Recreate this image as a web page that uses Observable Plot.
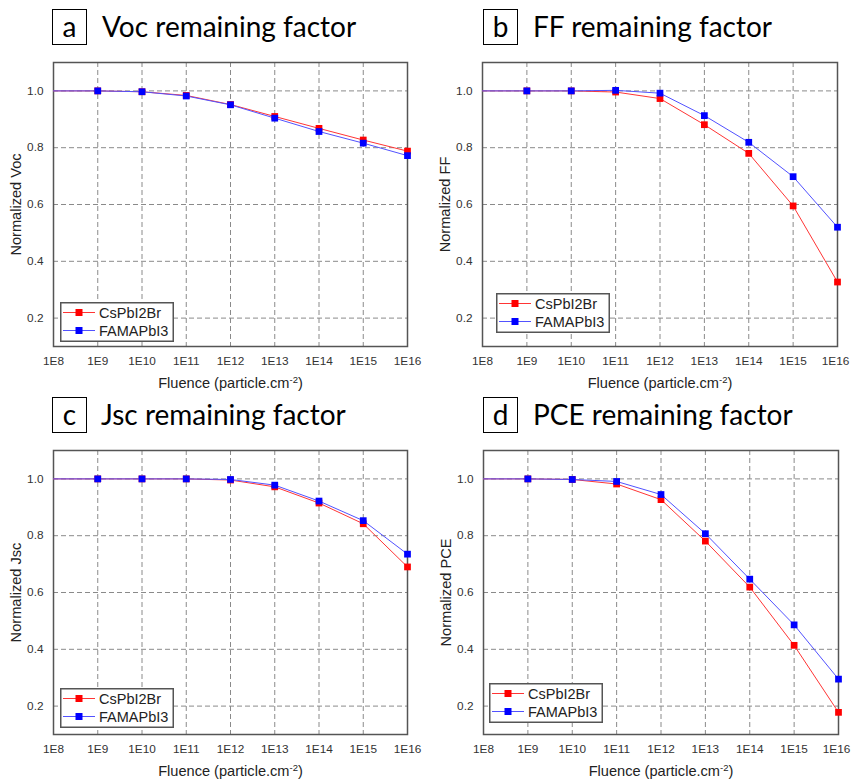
<!DOCTYPE html>
<html><head><meta charset="utf-8">
<script src="https://cdn.jsdelivr.net/npm/d3@7"></script>
<script src="https://cdn.jsdelivr.net/npm/@observablehq/plot@0.6"></script>
<style>
body{margin:0;background:#fff;}
#root{position:relative;width:851px;height:780px;overflow:hidden;background:#fff;}
.abs{position:absolute;}
.tbox{position:absolute;box-sizing:border-box;border:1.6px solid #000;font-family:Lato,"Open Sans",sans-serif;font-size:28px;color:#000;text-align:center;}
.ttl{position:absolute;font-family:Lato,"Open Sans",sans-serif;font-size:28px;color:#000;white-space:nowrap;}
</style></head><body><div id="root"></div>
<script>
// ---- data ----
const fluence = [1e8, 1e9, 1e10, 1e11, 1e12, 1e13, 1e14, 1e15, 1e16];
const xTickLabels = ["1E8","1E9","1E10","1E11","1E12","1E13","1E14","1E15","1E16"];
const yTicks = [0.2, 0.4, 0.6, 0.8, 1.0];
const seriesNames = ["CsPbI2Br", "FAMAPbI3"];

const vocCs = [1.0, 1.0, 0.997, 0.984, 0.952, 0.910, 0.868, 0.827, 0.788];
const vocFa = [1.0, 1.0, 0.997, 0.982, 0.951, 0.904, 0.857, 0.816, 0.772];
const ffCs  = [1.0, 1.0, 1.0, 0.996, 0.973, 0.881, 0.780, 0.595, 0.327];
const ffFa  = [1.0, 1.0, 1.0, 1.002, 0.992, 0.913, 0.819, 0.698, 0.520];
const jscCs = [1.0, 1.0, 1.0, 1.0, 0.996, 0.972, 0.915, 0.842, 0.690];
const jscFa = [1.0, 1.0, 1.0, 1.0, 0.998, 0.978, 0.922, 0.853, 0.735];
const pceCs = [1.0, 1.0, 0.998, 0.982, 0.927, 0.781, 0.619, 0.414, 0.178];
const pceFa = [1.0, 1.0, 0.998, 0.991, 0.945, 0.807, 0.647, 0.486, 0.295];

const panels = [
  {letter:"a", title:"Voc remaining factor", ylabel:"Normalized Voc", cs:vocCs, fa:vocFa,
   px:0, py:50, mL:53, mR:18, box:[52,9], tx:102, leg:[60,302], right:false},
  {letter:"b", title:"FF remaining factor", ylabel:"Normalized FF", cs:ffCs, fa:ffFa,
   px:425, py:50, mL:57, mR:13, box:[483,9], tx:533, leg:[496,293], right:true},
  {letter:"c", title:"Jsc remaining factor", ylabel:"Normalized Jsc", cs:jscCs, fa:jscFa,
   px:0, py:438, mL:53, mR:18, box:[52,397], tx:101, leg:[60,688], right:false},
  {letter:"d", title:"PCE remaining factor", ylabel:"Normalized PCE", cs:pceCs, fa:pceFa,
   px:425, py:438, mL:58, mR:12, box:[483,397], tx:533, leg:[489,683], right:true}
];

const redLine = "#ff3535", blueLine = "#5252ff";
const redFill = "#ff0000", blueFill = "#0000ff";
const root = document.getElementById("root");
const sans = '"Liberation Sans", Arial, sans-serif';

for (const p of panels) {
  const cs = fluence.map((x, i) => ({x, y: p.cs[i]}));
  const fa = fluence.map((x, i) => ({x, y: p.fa[i]}));
  const csDots = cs.filter(d => d.x >= 1e9);
  const faDots = fa.filter(d => d.x >= 1e9);
  const chart = Plot.plot({
    width: 425, height: 340,
    marginLeft: p.mL, marginRight: p.mR, marginTop: 12, marginBottom: 44,
    style: {fontFamily: sans, fontSize: "11.8px", color: "#333", background: "transparent", overflow: "visible"},
    x: {type: "log", domain: [1e8, 1e16]},
    y: {domain: [0.1, 1.1]},
    marks: [
      Plot.gridX(fluence.slice(1, -1), {stroke: "#8a8a8a", strokeOpacity: 1, strokeDasharray: "5,3"}),
      Plot.gridY(yTicks, {stroke: "#8a8a8a", strokeOpacity: 1, strokeDasharray: "5,3"}),
      Plot.frame({stroke: "#555", strokeWidth: 1.5}),
      Plot.axisX(fluence, {tickSize: 0, tickPadding: 10, tickFormat: d => xTickLabels[fluence.indexOf(d)],
        label: "Fluence (particle.cm-2)", labelAnchor: "center", labelArrow: "none", labelOffset: 41}),
      Plot.axisY(yTicks, {tickSize: 0, tickPadding: 10, tickFormat: d => d.toFixed(1),
        label: p.ylabel, labelAnchor: "center", labelArrow: "none", labelOffset: 43}),
      Plot.line(cs, {x: "x", y: "y", stroke: redLine, strokeWidth: 1}),
      Plot.dot(csDots, {x: "x", y: "y", symbol: "square", r: 3.8, fill: redFill}),
      Plot.line(fa, {x: "x", y: "y", stroke: blueLine, strokeWidth: 1}),
      Plot.dot(faDots, {x: "x", y: "y", symbol: "square", r: 3.8, fill: blueFill})
    ]
  });
  chart.style.position = "absolute";
  chart.style.left = p.px + "px";
  chart.style.top = p.py + "px";
  // axis label styling
  chart.querySelectorAll("text").forEach(t => {
    const s = t.textContent;
    if (s.startsWith("Fluence")) {
      t.style.fontSize = "14.6px";
      t.innerHTML = 'Fluence (particle.cm<tspan dy="-5" font-size="9.5">-2</tspan><tspan dy="5">)</tspan>';
      t.setAttribute("fill", "#222");
    } else if (s.startsWith("Normalized")) {
      t.textContent = s.replace(/\s*[→↑←↓]\s*/g, "");
      t.style.fontSize = "14.6px";
      t.setAttribute("fill", "#222");
    } else if (s === "1E16" && p.right) {
      t.setAttribute("dx", "-2");
    }
  });
  root.appendChild(chart);

  // title box + title
  const b = document.createElement("div");
  b.className = "tbox";
  b.style.left = p.box[0] + "px"; b.style.top = p.box[1] + "px";
  b.style.width = "35px"; b.style.height = "36px"; b.style.lineHeight = "32px";
  b.textContent = p.letter;
  root.appendChild(b);
  const t = document.createElement("div");
  t.className = "ttl";
  t.style.left = p.tx + "px"; t.style.top = (p.box[1]) + "px";
  t.style.lineHeight = "34px";
  t.textContent = p.title;
  root.appendChild(t);

  // legend
  const lg = d3.select(root).append("svg")
    .attr("class", "abs").attr("width", 114).attr("height", 40)
    .style("left", p.leg[0] + "px").style("top", p.leg[1] + "px");
  lg.append("rect").attr("x", 0.75).attr("y", 0.75).attr("width", 112.5).attr("height", 38.5)
    .attr("fill", "#fff").attr("stroke", "#555").attr("stroke-width", 1.5);
  const rows = [{name: seriesNames[0], line: redLine, fill: redFill, y: 10.5},
                {name: seriesNames[1], line: blueLine, fill: blueFill, y: 28.5}];
  for (const r of rows) {
    lg.append("line").attr("x1", 3).attr("x2", 35).attr("y1", r.y).attr("y2", r.y)
      .attr("stroke", r.line).attr("stroke-width", 1);
    lg.append("rect").attr("x", 15.5).attr("y", r.y - 3.5).attr("width", 7).attr("height", 7).attr("fill", r.fill);
    lg.append("text").attr("x", 39).attr("y", r.y).attr("dy", "0.36em")
      .attr("font-family", sans).attr("font-size", "14.5px")
      .attr("fill", "#222").text(r.name);
  }
}
</script></body></html>
